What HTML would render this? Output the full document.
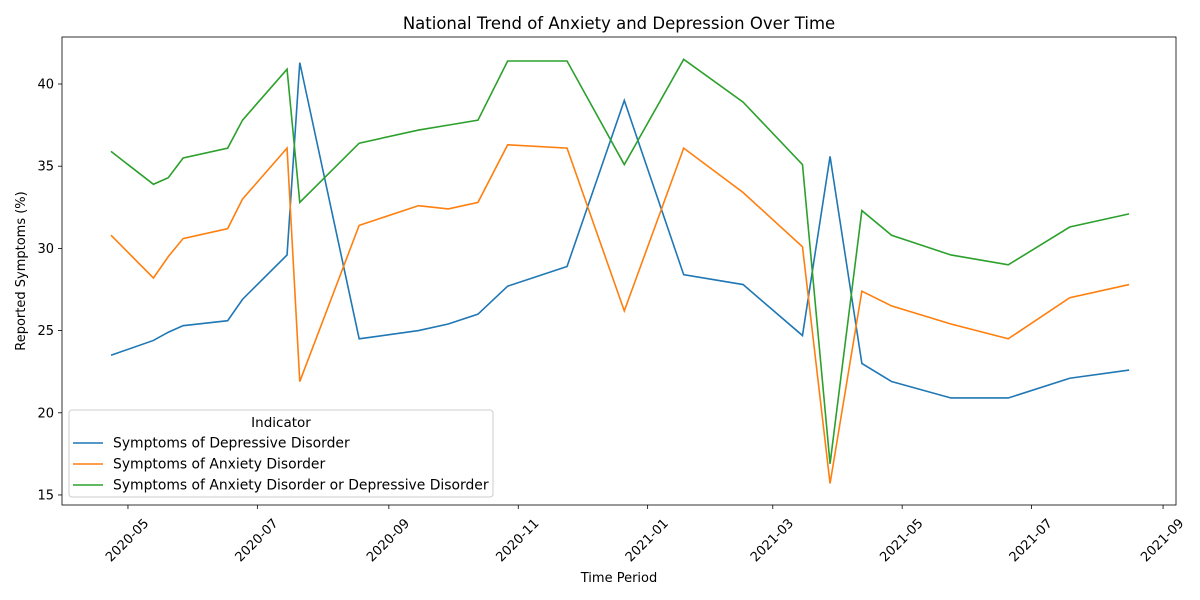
<!DOCTYPE html>
<html><head><meta charset="utf-8">
<style>
body{margin:0;background:#fff;}
svg{display:block;font-family:"DejaVu Sans","Liberation Sans",sans-serif;}
</style></head>
<body>
<svg id="chart" width="1200" height="600"></svg>
<script>
const dates = ["2020-04-23","2020-05-13","2020-05-20","2020-05-27","2020-06-17","2020-06-24","2020-07-15","2020-07-21","2020-08-18","2020-09-15","2020-09-29","2020-10-13","2020-10-27","2020-11-24","2020-12-21","2021-01-18","2021-02-15","2021-03-15","2021-03-28","2021-04-12","2021-04-26","2021-05-24","2021-06-20","2021-07-19","2021-08-16"];
const depression = [23.5,24.4,24.9,25.3,25.6,26.9,29.6,41.3,24.5,25.0,25.4,26.0,27.7,28.9,39.0,28.4,27.8,24.7,35.6,23.0,21.9,20.9,20.9,22.1,22.6];
const anxiety = [30.8,28.2,29.5,30.6,31.2,33.0,36.1,21.9,31.4,32.6,32.4,32.8,36.3,36.1,26.2,36.1,33.4,30.1,15.7,27.4,26.5,25.4,24.5,27.0,27.8];
const either = [35.9,33.9,34.3,35.5,36.1,37.8,40.9,32.8,36.4,37.2,37.5,37.8,41.4,41.4,35.1,41.5,38.9,35.1,16.9,32.3,30.8,29.6,29.0,31.3,32.1];
const yTicks = [15,20,25,30,35,40];
const xTicks = ["2020-05","2020-07","2020-09","2020-11","2021-01","2021-03","2021-05","2021-07","2021-09"];
const seriesNames = ["Symptoms of Depressive Disorder","Symptoms of Anxiety Disorder","Symptoms of Anxiety Disorder or Depressive Disorder"];

const NS="http://www.w3.org/2000/svg";
const svg=document.getElementById('chart');
const L=62,R=1176,T=37,B=505;
const DAY=86400000;
const t0=Date.parse("2020-05-01");
const dmin=t0-31.1*DAY, dmax=t0+494.1*DAY;
const ymin=14.39, ymax=42.86;
function x(d){return L+(Date.parse(d)-dmin)/(dmax-dmin)*(R-L);}
function y(v){return B-(v-ymin)/(ymax-ymin)*(B-T);}
function mk(tag,attrs,parent){const e=document.createElementNS(NS,tag);for(const k in attrs)e.setAttribute(k,attrs[k]);(parent||svg).appendChild(e);return e;}

const title=mk('text',{x:(L+R)/2,y:29,'text-anchor':'middle','font-size':16.5,fill:'#000'});


title.textContent="National Trend of Anxiety and Depression Over Time";

yTicks.forEach(v=>{
  mk('line',{x1:L-4,x2:L,y1:y(v),y2:y(v),stroke:'#000','stroke-width':0.8});
  const t=mk('text',{x:L-8,y:y(v)+4.5,'text-anchor':'end','font-size':13});
  
  
  t.textContent=v;
});
xTicks.forEach(s=>{
  const px=x(s+"-01");
  mk('line',{x1:px,x2:px,y1:B,y2:B+4,stroke:'#000','stroke-width':0.8});
  const cx=px-1, cy=B+35;
  const t=mk('text',{x:cx,y:cy+4.5,'text-anchor':'middle','font-size':13,transform:`rotate(-45 ${cx} ${cy})`});
  
  
  t.textContent=s;
});

const colors=['#1f77b4','#ff7f0e','#2ca02c'];
[depression,anxiety,either].forEach((arr,i)=>{
  const p=mk('polyline',{points:arr.map((v,j)=>x(dates[j])+','+y(v)).join(' '),fill:'none',stroke:colors[i],'stroke-width':1.6});
  
  
});

const frame=mk('rect',{x:L,y:T,width:R-L,height:B-T,fill:'none',stroke:'#000','stroke-width':0.8});



const xl=mk('text',{x:(L+R)/2,y:582,'text-anchor':'middle','font-size':13});


xl.textContent="Time Period";
const yl=mk('text',{x:25,y:(T+B)/2,'text-anchor':'middle','font-size':13,transform:`rotate(-90 25 ${(T+B)/2})`});


yl.textContent="Reported Symptoms (%)";

const lg=mk('g',{});


mk('rect',{x:69,y:410,width:424,height:87,rx:3,fill:'#fff','fill-opacity':0.85,stroke:'#ccc'},lg);
const lt=mk('text',{x:281,y:427,'text-anchor':'middle','font-size':13.5},lg);
lt.textContent="Indicator";
seriesNames.forEach((n,i)=>{
  const yy=443+i*21;
  const e=mk('g',{},lg);
  
  
  mk('line',{x1:73,x2:103,y1:yy,y2:yy,stroke:colors[i],'stroke-width':1.6},e);
  const t=mk('text',{x:113,y:yy+4.5,'font-size':13.9},e);
  t.textContent=n;
});
</script>
</body></html>
